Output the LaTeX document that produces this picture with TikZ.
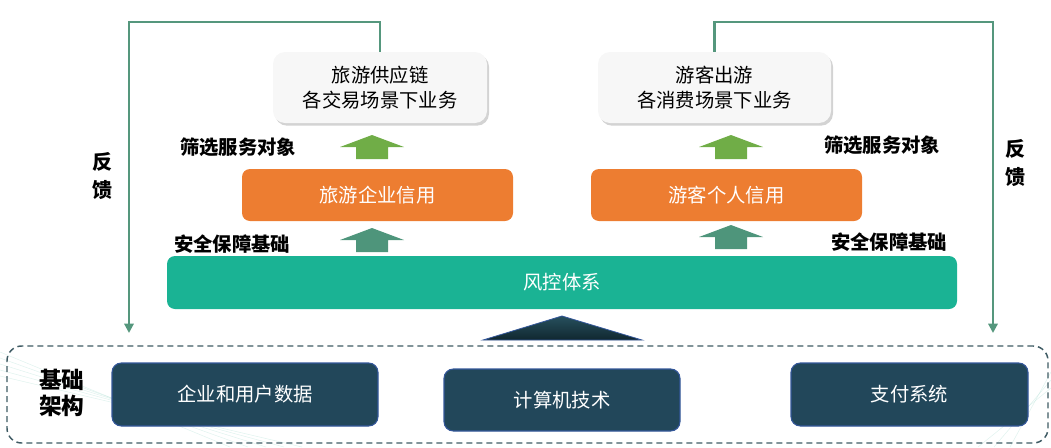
\documentclass[tikz,border=0pt]{standalone}
\usepackage{fontspec}
\setmainfont{Noto Sans CJK SC}
\usetikzlibrary{fit,shadows,arrows.meta}
\definecolor{orangeC}{HTML}{ED7D31}
\definecolor{greenA}{HTML}{70AD47}
\definecolor{darkA}{HTML}{4E957B}
\definecolor{tealC}{HTML}{1AB394}
\definecolor{navyC}{HTML}{22475A}
\definecolor{navyB}{HTML}{34579A}
\definecolor{fbC}{HTML}{55977D}
\definecolor{dashC}{HTML}{3E5A63}
\definecolor{topF}{HTML}{F7F7F7}
\definecolor{triTop}{HTML}{27505E}
\definecolor{triBot}{HTML}{10272F}
\definecolor{decoC}{HTML}{A8DCD0}
\begin{document}
\begin{tikzpicture}[x=0.75pt,y=-0.75pt,
  txt/.style={font=\fontsize{14.5}{19}\selectfont},
  topbox/.style={fill=topF, draw=none, rounded corners=9pt, inner sep=0pt,
    drop shadow={shadow xshift=1.5pt, shadow yshift=-2pt, opacity=0.35, fill=gray},
    txt, align=center, text=black},
  orangebox/.style={fill=orangeC, draw=none, rounded corners=6pt, inner sep=0pt, txt, text=white},
  tealbox/.style={fill=tealC, draw=none, rounded corners=6pt, inner sep=0pt, txt, text=white},
  navybox/.style={fill=navyC, draw=navyB, line width=0.8pt, rounded corners=7pt, inner sep=0pt, txt, text=white},
  dashbox/.style={draw=dashC, line width=1.1pt, dash pattern=on 4.5pt off 3pt, rounded corners=11pt, inner sep=0pt},
  lbl/.style={font=\bfseries\fontsize{14.5}{16}\selectfont, text=black, inner sep=0pt, align=center},
  fb/.style={draw=fbC, line width=1.6pt, -{Triangle[length=7pt,width=7pt]}},
  blockup/.pic={\fill[pic actions] (-32,12) -- (0,0) -- (32,12) -- (16,12) -- (16,24) -- (-16,24) -- (-16,12) -- cycle;}
]
\useasboundingbox (0,0) rectangle (1051,447);

% decorative faint lines
\foreach \d in {0,6,12,18,24}{
  \draw[decoC, line width=0.4pt, opacity=0.35] (0,{352+\d}) -- ({230+3*\d},447);
}
\foreach \d in {0,8,16}{
  \draw[decoC, line width=0.4pt, opacity=0.35] (1051,{372+\d}) -- ({1010-2*\d},447);
}

% top boxes
\node[topbox, fit={(273,52)(487,123)}] (lt) {};
\node[txt, align=center] at (lt.center) {旅游供应链\\各交易场景下业务};
\node[topbox, fit={(598,52)(831,123)}] (rt) {};
\node[txt, align=center] at (rt.center) {游客出游\\各消费场景下业务};

% orange boxes
\node[orangebox, fit={(242,169)(513,221)}] (lo) {};
\node[txt, text=white] at (lo.center) {旅游企业信用};
\node[orangebox, fit={(591,169)(862,221)}] (ro) {};
\node[txt, text=white] at (ro.center) {游客个人信用};

% risk control bar
\node[tealbox, fit={(167,256)(957,309)}] (risk) {};
\node[txt, text=white] at (risk.center) {风控体系};

% block arrows
\pic[fill=greenA] at (372,135) {blockup};
\pic[fill=greenA] at (731,135) {blockup};
\pic[fill=darkA] at (372,228) {blockup};
\pic[fill=darkA] at (731,225) {blockup};

% labels
\node[lbl] (lfilter) at (238,147) {筛选服务对象};
\node[lbl] (rfilter) at (882,145) {筛选服务对象};
\node[lbl] (lsafe) at (232,244) {安全保障基础};
\node[lbl] (rsafe) at (889,242) {安全保障基础};
\node[lbl, font=\bfseries\fontsize{15}{21}\selectfont] (lfb) at (102,176) {反\\馈};
\node[lbl, font=\bfseries\fontsize{15}{21}\selectfont] (rfb) at (1015,163) {反\\馈};

% triangle
\shade[top color=triTop, bottom color=triBot, draw=navyB, line width=0.6pt]
  (562,316) -- (642,340) -- (483,340) -- cycle;

% foundation
\node[dashbox, fit={(7,346)(1048,443)}] (found) {};
\node[lbl, font=\bfseries\fontsize{17}{20}\selectfont] (basel) at (62,393) {基础\\架构};
\node[navybox, fit={(112,363)(378,426)}] (d1) {};
\node[txt, text=white] at (d1.center) {企业和用户数据};
\node[navybox, fit={(444,369)(680,431)}] (d2) {};
\node[txt, text=white] at (d2.center) {计算机技术};
\node[navybox, fit={(791,363)(1028,426)}] (d3) {};
\node[txt, text=white] at (d3.center) {支付系统};

% feedback connectors
\coordinate (fbLtop) at (129,22);
\coordinate (fbLend) at (129,333);
\coordinate (fbRtop) at (993,22);
\coordinate (fbRend) at (993,333);
\draw[fb] (lt.north) |- (fbLtop) -- (fbLend);
\draw[fb] (rt.north) |- (fbRtop) -- (fbRend);
\end{tikzpicture}
\end{document}
